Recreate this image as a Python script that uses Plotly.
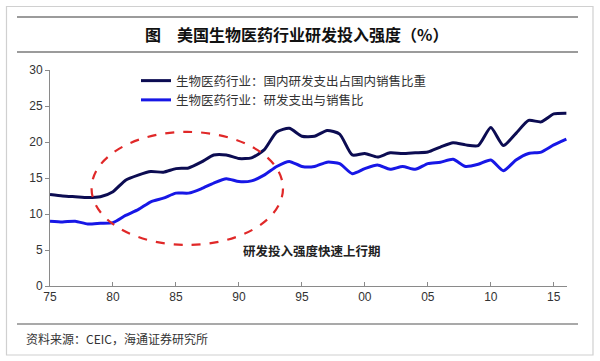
import plotly.graph_objects as go

years = list(range(1975, 2017))
domestic_share = [12.7, 12.5, 12.4, 12.3, 12.4, 13.1, 14.7, 15.4, 15.9, 15.8,
                  16.3, 16.4, 17.2, 18.2, 18.2, 17.7, 17.8, 18.9, 21.4, 21.9,
                  20.8, 20.8, 21.6, 21.1, 18.2, 18.4, 17.9, 18.5, 18.4, 18.5,
                  18.6, 19.3, 19.9, 19.6, 19.5, 22.0, 19.5, 21.2, 23.0, 22.8,
                  23.9, 24.0]
rd_to_sales = [9.0, 8.9, 9.0, 8.6, 8.7, 8.8, 9.8, 10.6, 11.7, 12.2,
               12.9, 12.9, 13.5, 14.3, 14.9, 14.5, 14.6, 15.4, 16.6, 17.3,
               16.6, 16.6, 17.2, 17.0, 15.6, 16.3, 16.8, 16.2, 16.6, 16.2,
               17.0, 17.2, 17.6, 16.6, 16.9, 17.5, 16.0, 17.5, 18.4, 18.6,
               19.6, 20.4]
series_names = ["生物医药行业：国内研发支出占国内销售比重", "生物医药行业：研发支出与销售比"]
series_colors = ["#0c0c52", "#1717e6"]
x_tickvals = [1975, 1980, 1985, 1990, 1995, 2000, 2005, 2010, 2015]
x_ticktext = ["75", "80", "85", "90", "95", "00", "05", "10", "15"]
y_tickvals = [0, 5, 10, 15, 20, 25, 30]

title_text = "图　美国生物医药行业研发投入强度（%）"
source_text = "资料来源：CEIC，海通证券研究所"
note_text = "研发投入强度快速上行期"

W, H = 600, 361
L, R, T, B = 50, 33, 70, 75
pw, ph = W - L - R, H - T - B

def px(x):
    return (x - L) / pw

def py(y):
    return (H - B - y) / ph

cjk = "Noto Sans CJK SC"
fig = go.Figure()
for name, vals, col in zip(series_names, [domestic_share, rd_to_sales], series_colors):
    fig.add_trace(go.Scatter(x=years, y=vals, name=name, mode="lines",
                             line=dict(color=col, width=3, shape="spline", smoothing=0.6)))

shapes = [
    dict(type="rect", xref="paper", yref="paper", x0=px(6.5), x1=px(593), y0=py(6.5), y1=py(355),
         line=dict(color="#d0d0d0", width=1.2)),
    dict(type="line", xref="paper", yref="paper", x0=px(17), x1=px(578), y0=py(17), y1=py(17),
         line=dict(color="#7a7a7a", width=1.5)),
    dict(type="line", xref="paper", yref="paper", x0=px(17), x1=px(578), y0=py(52), y1=py(52),
         line=dict(color="#7a7a7a", width=1.5)),
    dict(type="line", xref="paper", yref="paper", x0=px(17), x1=px(578), y0=py(324), y1=py(324),
         line=dict(color="#555555", width=1.2)),
    dict(type="circle", xref="x", yref="y", x0=1978.3, x1=1993.5, y0=5.7, y1=21.4,
         line=dict(color="#e02828", width=2.2, dash="dash")),
]

annotations = [
    dict(text="<b>" + title_text + "</b>", xref="paper", yref="paper", x=px(296), y=py(34), showarrow=False,
         font=dict(family=cjk, size=16, color="#111111"), xanchor="center", yanchor="middle"),
    dict(text=source_text, xref="paper", yref="paper", x=px(24), y=py(338), showarrow=False,
         font=dict(family=cjk, size=12, color="#333333"), xanchor="left", yanchor="middle"),
    dict(text="<b>" + note_text + "</b>", xref="x", yref="y", x=1995.8, y=5.0, showarrow=False,
         font=dict(family=cjk, size=12.5, color="#222222"), xanchor="center", yanchor="middle"),
]

fig.update_layout(
    width=W, height=H,
    margin=dict(l=L, r=R, t=T, b=B),
    paper_bgcolor="white", plot_bgcolor="white",
    shapes=shapes, annotations=annotations,
    showlegend=True,
    legend=dict(x=px(136), y=py(66), xanchor="left", yanchor="top",
                bgcolor="rgba(0,0,0,0)", font=dict(family=cjk, size=12.5, color="#333333"),
                tracegroupgap=0),
    xaxis=dict(range=[1975, 2016.05], tickvals=x_tickvals, ticktext=x_ticktext,
               showgrid=False, zeroline=False, showline=True, linecolor="#8a8a8a", linewidth=1,
               ticks="inside", ticklen=4, tickcolor="#8a8a8a",
               tickfont=dict(family="Liberation Sans", size=12, color="#333333")),
    yaxis=dict(range=[0, 30], tickvals=y_tickvals,
               showgrid=False, zeroline=False, showline=True, linecolor="#8a8a8a", linewidth=1,
               ticks="outside", ticklen=4, tickcolor="#8a8a8a",
               tickfont=dict(family="Liberation Sans", size=12, color="#333333")),
)

fig.write_html("out.html", config={"displayModeBar": False},
               post_script="document.body.style.margin='0';document.body.style.padding='0';")
